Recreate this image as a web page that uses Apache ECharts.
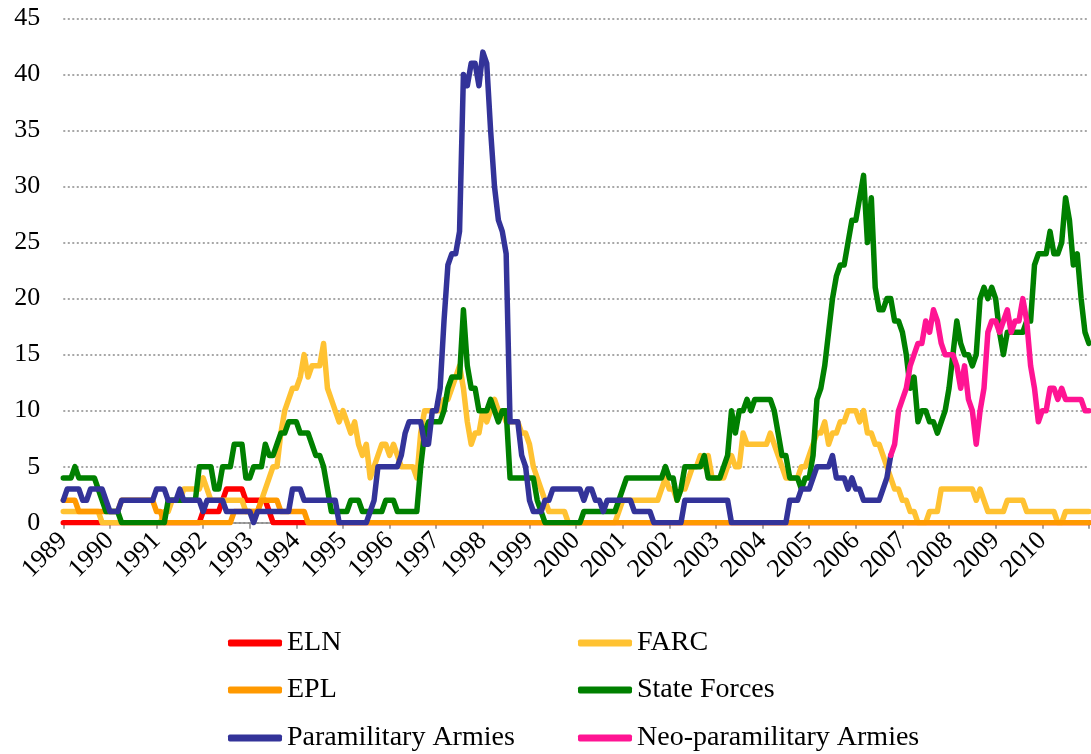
<!DOCTYPE html>
<html>
<head>
<meta charset="utf-8">
<script src="https://cdn.jsdelivr.net/npm/echarts@6/dist/echarts.min.js"></script>
<style>html,body{margin:0;padding:0;background:#fff}#c{width:1091px;height:754px}</style>
</head>
<body>
<div id="c"></div>
<script>
// Monthly values, Jan 1989 .. Jan 2011 (one row per year)
const eln = [].concat(
  [0,0,0,0,0,0,0,0,0,0,0,0],
  [0,0,0,0,0,0,0,0,0,0,0,0],
  [0,0,0,0,0,0,0,0,0,0,0,0],
  [1,1,1,1,1,2,3,3,3,3,3,2],
  [2,2,2,2,2,1,0,0,0,0,0,0],
  [0,0,0,0,0,0,0,0,0,0,0,0],
  [0,0,0,0,0,0,0,0,0,0,0,0],
  [0,0,0,0,0,0,0,0,0,0,0,0],
  [0,0,0,0,0,0,0,0,0,0,0,0],
  [0,0,0,0,0,0,0,0,0,0,0,0],
  [0,0,0,0,0,0,0,0,0,0,0,0],
  [0,0,0,0,0,0,0,0,0,0,0,0],
  [0,0,0,0,0,0,0,0,0,0,0,0],
  [0,0,0,0,0,0,0,0,0,0,0,0],
  [0,0,0,0,0,0,0,0,0,0,0,0],
  [0,0,0,0,0,0,0,0,0,0,0,0],
  [0,0,0,0,0,0,0,0,0,0,0,0],
  [0,0,0,0,0,0,0,0,0,0,0,0],
  [0,0,0,0,0,0,0,0,0,0,0,0],
  [0,0,0,0,0,0,0,0,0,0,0,0],
  [0,0,0,0,0,0,0,0,0,0,0,0],
  [0,0,0,0,0,0,0,0,0,0,0,0],
  [0]
);
const farc = [].concat(
  [1,1,1,1,1,1,1,1,1,1,0,0],
  [0,0,0,0,0,0,0,0,0,0,0,0],
  [0,0,1,1,2,2,2,3,3,3,3,3],
  [4,3,2,2,2,2,2,2,2,2,2,1],
  [1,1,1,2,3,4,5,5,8,10,11,12],
  [12,13,15,13,14,14,14,16,12,11,10,9],
  [10,9,8,9,7,6,7,4,5,6,7,7],
  [6,7,6,5,5,5,5,4,8,10,10,10],
  [10,10,11,11,12,13,14,12,9,7,8,8],
  [10,9,10,11,10,10,9,9,9,9,8,8],
  [7,5,4,3,2,1,1,1,1,1,0,0],
  [0,0,0,0,0,0,0,0,0,0,0,1],
  [2,2,2,2,2,2,2,2,2,2,3,4],
  [3,3,2,3,3,4,5,5,6,5,6,4],
  [4,4,4,5,6,5,5,8,7,7,7,7],
  [7,7,8,7,6,5,4,4,4,4,5,5],
  [6,7,8,8,9,7,8,8,9,9,10,10],
  [10,9,10,8,8,7,7,6,5,4,3,3],
  [2,2,1,1,0,0,0,1,1,1,3,3],
  [3,3,3,3,3,3,3,2,3,2,1,1],
  [1,1,1,2,2,2,2,2,1,1,1,1],
  [1,1,1,1,0,0,1,1,1,1,1,1],
  [1]
);
const epl = [].concat(
  [2,2,2,2,1,1,1,1,1,1,1,1],
  [1,1,1,2,2,2,2,2,2,2,2,2],
  [1,1,0,0,0,0,0,0,0,0,0,0],
  [0,0,0,0,0,0,0,0,1,1,1,1],
  [1,1,1,2,2,2,2,2,1,1,1,1],
  [1,1,1,0,0,0,0,0,0,0,0,0],
  [0,0,0,0,0,0,0,0,0,0,0,0],
  [0,0,0,0,0,0,0,0,0,0,0,0],
  [0,0,0,0,0,0,0,0,0,0,0,0],
  [0,0,0,0,0,0,0,0,0,0,0,0],
  [0,0,0,0,0,0,0,0,0,0,0,0],
  [0,0,0,0,0,0,0,0,0,0,0,0],
  [0,0,0,0,0,0,0,0,0,0,0,0],
  [0,0,0,0,0,0,0,0,0,0,0,0],
  [0,0,0,0,0,0,0,0,0,0,0,0],
  [0,0,0,0,0,0,0,0,0,0,0,0],
  [0,0,0,0,0,0,0,0,0,0,0,0],
  [0,0,0,0,0,0,0,0,0,0,0,0],
  [0,0,0,0,0,0,0,0,0,0,0,0],
  [0,0,0,0,0,0,0,0,0,0,0,0],
  [0,0,0,0,0,0,0,0,0,0,0,0],
  [0,0,0,0,0,0,0,0,0,0,0,0],
  [0]
);
const stateForces = [].concat(
  [4,4,4,5,4,4,4,4,4,3,2,1],
  [1,1,1,0,0,0,0,0,0,0,0,0],
  [0,0,0,2,2,2,2,2,2,2,2,5],
  [5,5,5,3,3,5,5,5,7,7,7,4],
  [4,5,5,5,7,6,6,7,8,8,9,9],
  [9,8,8,8,7,6,6,5,3,1,1,1],
  [1,1,2,2,2,1,1,1,1,1,1,2],
  [2,2,1,1,1,1,1,1,5,8,9,9],
  [9,9,10,12,13,13,13,19,14,12,12,10],
  [10,10,11,10,9,10,10,4,4,4,4,4],
  [4,4,2,1,0,0,0,0,0,0,0,0],
  [0,0,1,1,1,1,1,1,1,1,1,2],
  [3,4,4,4,4,4,4,4,4,4,4,5],
  [4,4,2,3,5,5,5,5,5,6,4,4],
  [4,4,5,6,10,8,10,10,11,10,11,11],
  [11,11,11,10,8,6,6,4,4,4,3,4],
  [4,6,11,12,14,17,20,22,23,23,25,27],
  [27,29,31,25,29,21,19,19,20,20,18,18],
  [17,15,12,13,9,10,10,9,9,8,9,10],
  [12,15,18,16,15,15,14,15,20,21,20,21],
  [20,17,15,17,17,17,17,17,18,18,23,24],
  [24,24,26,24,24,25,29,27,23,24,20,17],
  [16]
);
const paramilitary = [].concat(
  [2,3,3,3,3,2,2,3,3,3,3,2],
  [1,1,1,2,2,2,2,2,2,2,2,2],
  [3,3,3,2,2,2,3,2,2,2,2,2],
  [1,2,2,2,2,2,1,1,1,1,1,1],
  [1,0,1,1,1,1,1,1,1,1,1,3],
  [3,3,2,2,2,2,2,2,2,2,2,0],
  [0,0,0,0,0,0,0,1,2,5,5,5],
  [5,5,5,6,8,9,9,9,9,7,7,10],
  [10,12,18,23,24,24,26,40,39,41,41,39],
  [42,41,35,30,27,26,24,9,9,9,6,5],
  [2,1,1,1,2,2,3,3,3,3,3,3],
  [3,3,2,3,3,2,2,1,2,2,2,2],
  [2,2,2,1,1,1,1,1,0,0,0,0],
  [0,0,0,0,2,2,2,2,2,2,2,2],
  [2,2,2,2,0,0,0,0,0,0,0,0],
  [0,0,0,0,0,0,0,2,2,2,3,3],
  [3,4,5,5,5,5,6,4,4,4,3,4],
  [3,3,2,2,2,2,2,3,4,6]
);
const neoParamilitary = [].concat(
  [6,7,10],
  [11,12,14,15,16,16,18,17,19,18,16,15],
  [15,15,14,12,14,11,10,7,10,12,17,18],
  [18,17,18,19,17,18,18,20,18,14,12,9],
  [10,10,12,12,11,12,11,11,11,11,11,10],
  [10]
);
const neoStart = 213; // month index where the neo-paramilitary series begins
const yearLabels = ['1989','1990','1991','1992','1993','1994','1995','1996','1997','1998','1999',
  '2000','2001','2002','2003','2004','2005','2006','2007','2008','2009','2010'];

const months = [];
for (let y = 1989; y <= 2011; y++) {
  for (let m = 1; m <= 12; m++) {
    if (months.length < 265) months.push(y + '-' + (m < 10 ? '0' + m : m));
  }
}
const neoFull = months.map((_, i) => i < neoStart ? null : neoParamilitary[i - neoStart]);
const paraFull = months.map((_, i) => i < paramilitary.length ? paramilitary[i] : null);

const FONT = 'Liberation Serif';
const names = ['ELN','FARC','EPL','State Forces','Paramilitary Armies','Neo-paramilitary Armies'];
const colors = ['#FF0000','#FFC232','#FF9900','#008000','#333399','#FF1493'];
const values = [eln, farc, epl, stateForces, paraFull, neoFull];
const legendPos = [[228,629],[578,629],[228,676],[578,676],[228,724],[578,724]];

const chart = echarts.init(document.getElementById('c'), null, {renderer: 'canvas'});
chart.setOption({
  animation: false,
  backgroundColor: '#fff',
  grid: {left: 63.3, right: 1, top: 18.5, bottom: 231.3, containLabel: false},
  xAxis: {
    type: 'category', data: months, boundaryGap: false,
    axisLine: {show: true, lineStyle: {color: '#868686', width: 1.5}},
    axisTick: {show: true, interval: 11, length: 6, lineStyle: {color: '#868686', width: 1.5}},
    axisLabel: {interval: 11, rotate: 45, margin: 14, color: '#000', fontFamily: FONT, fontSize: 26,
      formatter: v => yearLabels.indexOf(v.slice(0, 4)) >= 0 ? v.slice(0, 4) : ''},
    splitLine: {show: false}
  },
  yAxis: {
    type: 'value', min: 0, max: 45, interval: 5,
    axisLine: {show: false}, axisTick: {show: false},
    axisLabel: {margin: 23, color: '#000', fontFamily: FONT, fontSize: 26},
    splitLine: {show: true, lineStyle: {color: '#8a8a8a', type: [2, 2.5], width: 1.5}}
  },
  legend: names.map((n, k) => ({
    orient: 'horizontal', left: legendPos[k][0], top: legendPos[k][1], data: [n],
    itemWidth: 54, itemHeight: 7, icon: 'roundRect', padding: 0,
    textStyle: {fontFamily: FONT, fontSize: 28, lineHeight: 28, color: '#000'}
  })),
  series: names.map((n, k) => ({
    name: n, type: 'line', data: values[k], showSymbol: false, symbol: 'none',
    color: colors[k], connectNulls: false, silent: true,
    lineStyle: {width: 5.5, color: colors[k], cap: 'round', join: 'round'},
    emphasis: {disabled: true}, z: 2 + k
  }))
});
</script>
</body>
</html>
